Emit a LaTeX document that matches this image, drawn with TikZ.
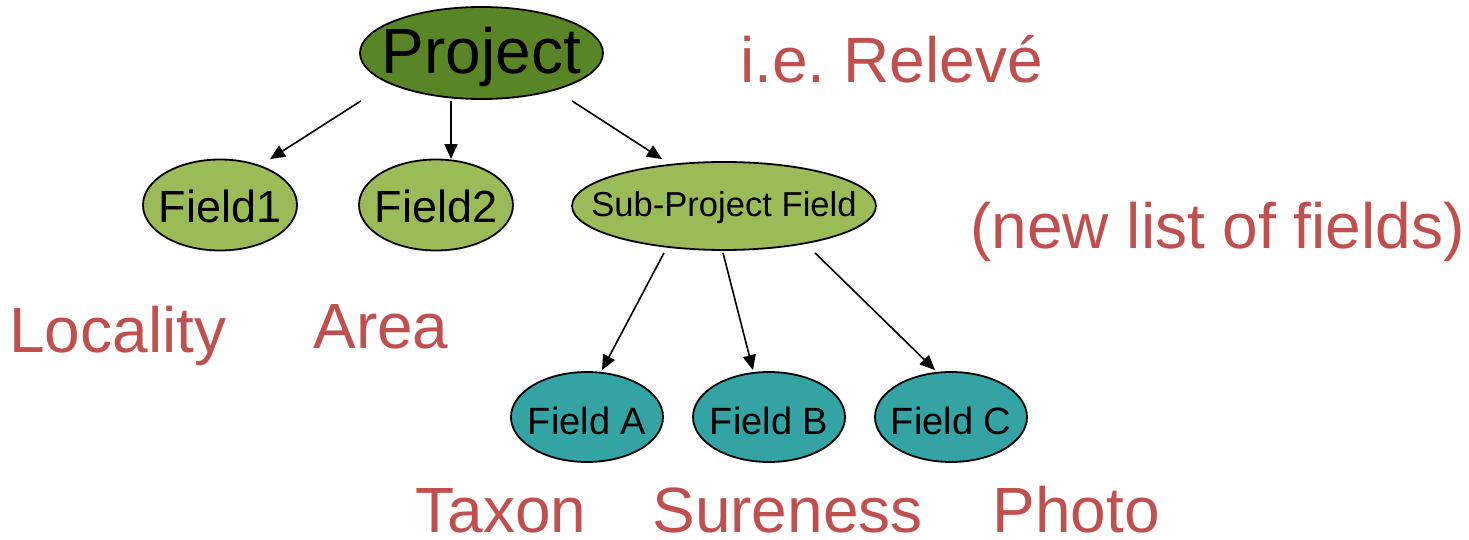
\documentclass[tikz,border=0pt]{standalone}
\usepackage{fontspec}
\setmainfont{Liberation Sans}
\usetikzlibrary{shapes.geometric,arrows.meta,calc}
\definecolor{projgreen}{HTML}{5A8526}
\definecolor{fieldgreen}{HTML}{9BBB59}
\definecolor{fieldteal}{HTML}{33A3A3}
\definecolor{labelred}{HTML}{C0504D}
\newcommand{\zw}[1]{\makebox[0pt]{#1}}
\frenchspacing
\begin{document}
\begin{tikzpicture}[x=0.5pt,y=-0.5pt,
  ell/.style={ellipse,draw=black,line width=0.9pt,inner sep=0pt,text depth=0pt},
  arr/.style={line width=0.8pt,-{Triangle[length=7.5pt,width=6.5pt]}},
  lbl/.style={text=labelred,font=\fontsize{32}{36}\selectfont,anchor=base west,inner sep=0pt}]
\useasboundingbox (0,0) rectangle (1469,540);
% nodes
\node[ell,fill=projgreen,minimum width=121.5pt,minimum height=46pt,text height=21pt,font=\fontsize{32}{36}\selectfont] (p) at (481.5,53) {\zw{Project}};
\node[ell,fill=fieldgreen,minimum width=77pt,minimum height=45.5pt,text height=18pt,font=\fontsize{22.5}{26}\selectfont] (f1) at (220,205) {\zw{Field1}};
\node[ell,fill=fieldgreen,minimum width=77pt,minimum height=45.5pt,text height=18pt,font=\fontsize{22.5}{26}\selectfont] (f2) at (436,205) {\zw{Field2}};
\node[ell,fill=fieldgreen,minimum width=152pt,minimum height=44pt,text height=11pt,font=\fontsize{17.3}{20}\selectfont] (s) at (724,206) {\zw{Sub-Project Field}};
\node[ell,fill=fieldteal,minimum width=76pt,minimum height=45pt,text height=17pt,font=\fontsize{19}{22}\selectfont] (a) at (587,417) {\zw{Field A}};
\node[ell,fill=fieldteal,minimum width=76pt,minimum height=45pt,text height=17pt,font=\fontsize{19}{22}\selectfont] (b) at (769,417) {\zw{Field B}};
\node[ell,fill=fieldteal,minimum width=76pt,minimum height=45pt,text height=17pt,font=\fontsize{19}{22}\selectfont] (c) at (951,417) {\zw{Field C}};
% connectors
\draw[arr] ($(p.south)+(-120.5,1)$) -- ($(f1.north)+(50,0.5)$);
\draw[arr] ($(p.south)+(-30.5,1)$) -- ($(f2.north)+(15,0.5)$);
\draw[arr] ($(p.south)+(90.5,1)$) -- ($(s.north)+(-62,-2)$);
\draw[arr] ($(s.south)+(-60,2)$) -- ($(a.north)+(15,-1)$);
\draw[arr] ($(s.south)+(-1,2)$) -- ($(b.north)+(-16,-1)$);
\draw[arr] ($(s.south)+(91,2)$) -- ($(c.north)+(-16,-1)$);
% labels
\node[lbl] (l1) at (740,83) {i.e. Relevé};
\node[lbl] (l2) at (970,249) {(new list of fields)};
\node[lbl] (l3) at (9,352) {Locality};
\node[lbl] (l4) at (313,349) {Area};
\node[lbl,text depth=0pt] (l5) at (415,532) {Taxon};
\node[lbl,text depth=0pt] (l6) at (652,532) {Sureness};
\node[lbl,text depth=0pt] (l7) at (992,532) {Photo};
\end{tikzpicture}
\end{document}
